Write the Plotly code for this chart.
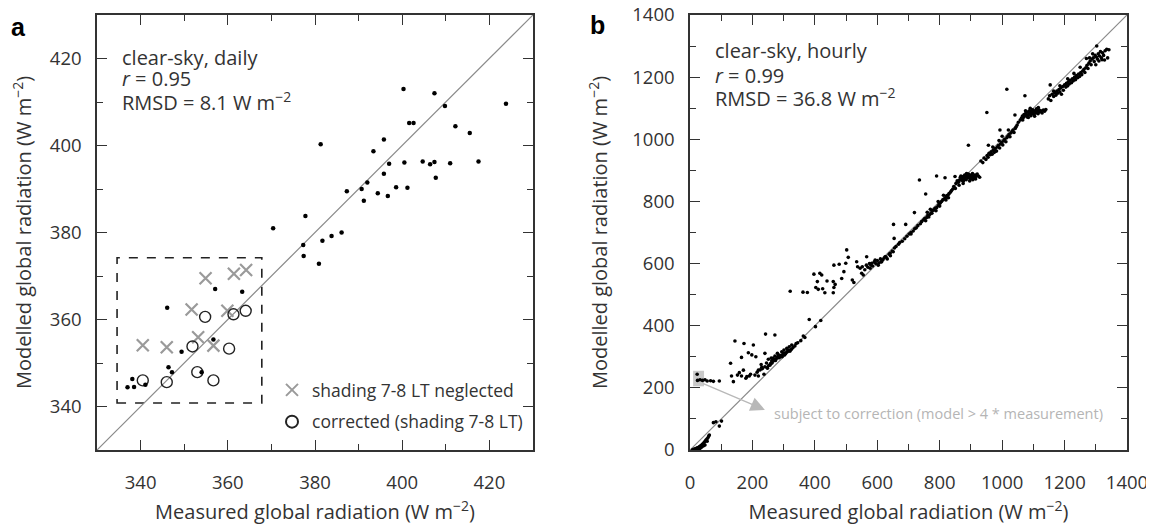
import plotly.graph_objects as go

# ---------------- Panel a: clear-sky, daily ----------------
a_x = [400.3, 407.4, 423.8, 409.8, 401.6, 402.6, 412.2, 415.5, 381.3, 395.8, 393.4, 397.0,
       400.5, 404.7, 406.4, 407.4, 411.0, 417.5, 407.7, 395.8, 392.0, 390.7, 387.3, 391.2,
       394.4, 396.7, 398.6, 401.2, 377.8, 386.1, 383.8, 381.7, 377.3, 377.4, 370.4, 380.9,
       357.1, 363.3, 346.1, 356.7, 349.4, 346.4, 347.2, 354.0, 338.1, 341.1, 337.0, 338.5]
a_y = [413.0, 412.0, 409.6, 409.1, 405.2, 405.2, 404.4, 402.9, 400.3, 401.4, 398.7, 395.8,
       396.1, 396.3, 395.7, 396.2, 395.9, 396.3, 392.6, 393.5, 391.5, 390.0, 389.5, 387.3,
       389.0, 388.4, 390.4, 390.3, 383.8, 380.0, 379.2, 378.1, 377.1, 374.6, 381.0, 372.8,
       367.0, 366.4, 362.7, 355.4, 352.6, 349.0, 347.9, 347.9, 346.3, 345.0, 344.4, 344.5]

neg_x = [354.9, 361.4, 364.2, 351.7, 359.9, 353.2, 340.5, 346.0, 356.7]
neg_y = [369.5, 370.5, 371.4, 362.3, 362.0, 355.9, 354.1, 353.6, 354.0]

cor_x = [354.8, 361.3, 364.1, 351.9, 360.3, 353.0, 356.7, 346.0, 340.5]
cor_y = [360.6, 361.2, 362.0, 353.8, 353.3, 347.9, 346.0, 345.6, 346.0]

a_range = [330, 430]
box_a = [334.6, 367.8, 340.8, 374.2]

# ---------------- Panel b: clear-sky, hourly ----------------
b_x = [
    # near origin
    8, 12, 15, 18, 20, 22, 25, 28, 30, 33, 35, 38, 40, 42, 45, 48, 50, 52, 55, 58, 60, 62,
    32, 36, 44, 48, 40, 55, 26, 30,
    # subject to correction
    23, 24, 32, 40, 48, 55, 66, 75, 94,
    75, 83, 101, 94,
    # lower cluster above line
    144, 173, 203, 242, 272, 130, 165, 187, 198, 211, 240, 171, 158, 133, 139, 152, 165, 179,
    190, 194, 208, 219, 230, 237, 248, 256, 251, 262, 265, 272, 280, 286, 294, 301, 310, 318,
    326, 340, 272, 283, 294, 304, 262, 182, 219,
    # along line 200-370
    215, 225, 232, 240, 248, 252, 258, 262, 266, 270, 274, 278, 281, 285, 288, 292, 295, 298,
    300, 303, 306, 310, 313, 316, 320, 325, 330, 336, 345, 355, 368, 228, 245, 260,
    363, 382, 419, 402,
    # upper-left cluster 320-650
    321, 362, 376, 397, 416, 422, 403, 411, 425, 432, 408, 439, 459, 461, 465, 459, 493, 478,
    461, 499, 507, 486, 520, 525, 534, 537, 550, 555, 566, 577, 582, 593, 603, 614, 625, 641,
    651, 502,
    # along line 540-720
    545, 552, 560, 565, 570, 575, 580, 585, 590, 595, 600, 605, 610, 612, 618, 622, 628, 632,
    638, 642, 648, 655, 660, 668, 672, 680, 688, 695, 702, 708, 715, 720,
    # 720-860
    725, 730, 738, 742, 748, 752, 758, 762, 768, 772, 775, 780, 785, 790, 795, 798, 802, 806,
    810, 815, 818, 822, 826, 830, 835, 838, 842, 845, 850, 812, 795, 770, 760, 755, 765, 775,
    788, 800, 820, 828,
    # dense 850-930
    852, 856, 860, 864, 866, 870, 872, 875, 878, 880, 882, 885, 888, 890, 892, 895, 898, 900,
    903, 905, 908, 910, 913, 916, 920, 924, 928, 868, 876, 886, 896, 906, 915, 875, 862,
    # 930-1050
    932, 938, 942, 948, 952, 955, 958, 962, 965, 968, 972, 975, 978, 982, 985, 988, 992, 995,
    998, 1002, 1005, 1008, 1012, 1015, 1018, 1022, 1025, 1028, 1032, 1035, 1038, 1042, 1045,
    1048, 970, 990, 1000, 1020,
    # dense 1050-1150
    1052, 1058, 1062, 1065, 1068, 1070, 1073, 1076, 1078, 1080, 1082, 1085, 1087, 1090, 1092,
    1094, 1096, 1098, 1100, 1102, 1105, 1108, 1110, 1112, 1115, 1118, 1120, 1124, 1128, 1132,
    1136, 1140, 1066, 1084, 1104, 1116, 1090, 1075,
    # 1150-1340
    1148, 1152, 1156, 1160, 1165, 1168, 1172, 1175, 1178, 1182, 1185, 1188, 1190, 1194, 1196,
    1200, 1204, 1206, 1210, 1212, 1215, 1218, 1222, 1225, 1228, 1232, 1235, 1238, 1242, 1245,
    1248, 1252, 1255, 1258, 1262, 1265, 1268, 1272, 1275, 1278, 1282, 1285, 1288, 1292, 1295,
    1298, 1302, 1305, 1308, 1312, 1315, 1318, 1322, 1325, 1330, 1335, 1300, 1310, 1320, 1280,
    1290, 1270, 1250, 1230, 1210, 1185, 1165, 1303, 1342, 1338, 1328,
    # outliers above line
    1015, 1073, 951, 892, 735, 790, 755, 652, 691, 654, 708, 719, 817, 849, 956, 993, 1041, 1154,
]
b_y = [
    1, 2, 3, 4, 5, 6, 7, 9, 10, 12, 14, 16, 18, 20, 24, 27, 30, 33, 36, 40, 45, 48,
    6, 8, 14, 16, 12, 28, 4, 5,
    244, 224, 226, 224, 226, 222, 223, 221, 222,
    88, 91, 93, 77,
    351, 343, 338, 373, 370, 279, 298, 313, 306, 300, 311, 257, 249, 238, 220, 241, 238, 231,
    238, 244, 241, 257, 266, 244, 263, 273, 292, 279, 295, 302, 311, 298, 316, 322, 327, 332,
    338, 343, 290, 306, 302, 311, 287, 236, 238,
    250, 258, 262, 268, 265, 272, 278, 282, 286, 290, 288, 295, 300, 297, 302, 305, 300, 308,
    312, 306, 310, 315, 318, 322, 318, 324, 330, 335, 345, 352, 362, 275, 280, 296,
    367, 420, 417, 397,
    511, 508, 507, 566, 569, 563, 523, 517, 519, 506, 542, 544, 542, 523, 533, 506, 574, 598,
    595, 601, 620, 552, 547, 539, 606, 590, 569, 563, 622, 585, 601, 611, 595, 606, 622, 633,
    638, 644,
    585, 590, 580, 595, 588, 600, 595, 592, 605, 600, 610, 602, 615, 605, 612, 618, 622, 615,
    630, 625, 640, 650, 655, 662, 668, 672, 680, 688, 695, 700, 705, 712,
    715, 722, 728, 735, 740, 745, 748, 755, 758, 762, 770, 772, 778, 780, 786, 792, 795, 800,
    805, 808, 812, 818, 820, 825, 830, 835, 840, 848, 842, 820, 800, 775, 765, 738, 750, 762,
    770, 785, 805, 812,
    858, 866, 862, 870, 878, 868, 875, 880, 872, 885, 878, 870, 882, 876, 888, 880, 872, 885,
    878, 890, 882, 875, 885, 880, 888, 882, 878, 882, 866, 890, 866, 870, 872, 858, 852,
    930, 925, 940, 935, 948, 942, 955, 950, 960, 952, 965, 958, 970, 962, 975, 980, 972, 985,
    990, 982, 995, 1000, 992, 1005, 1010, 1015, 1008, 1020, 1025, 1030, 1022, 1035, 1040,
    1046, 975, 996, 1010, 1030,
    1055, 1062, 1068, 1075, 1070, 1080, 1076, 1085, 1078, 1072, 1088, 1080, 1092, 1084, 1076,
    1090, 1082, 1095, 1088, 1080, 1092, 1085, 1098, 1090, 1082, 1095, 1088, 1092, 1085, 1094,
    1090, 1096, 1062, 1070, 1074, 1102, 1100, 1092,
    1130, 1140, 1125, 1145, 1138, 1150, 1142, 1155, 1148, 1160, 1152, 1165, 1145, 1170, 1158,
    1175, 1168, 1180, 1172, 1185, 1178, 1190, 1182, 1195, 1188, 1200, 1192, 1205, 1198, 1210,
    1202, 1215, 1208, 1220, 1225, 1215, 1230, 1238, 1228, 1245, 1252, 1240, 1258, 1262, 1250,
    1270, 1265, 1258, 1275, 1268, 1282, 1262, 1278, 1270, 1285, 1290, 1240, 1252, 1256, 1262,
    1275, 1260, 1232, 1212, 1195, 1172, 1155, 1300, 1288, 1262, 1255,
    1161, 1140, 1086, 981, 869, 882, 824, 726, 726, 681, 695, 764, 876, 880, 981, 1030, 1078, 1175,
]
b_range = [0, 1400]
corr_box = [10, 45, 205, 255]
arrow_tail = [38, 216]
arrow_tip = [240, 129]

FONT = "Open Sans"
TXT = "#333333"
AX = "#333333"
W, H = 1154, 524
OFF = 8  # page body margin offset


def px(x):
    return (x - OFF) / W


def py(y):
    return 1 - (y - OFF) / H


fig = go.Figure()

# 1:1 lines
fig.add_trace(go.Scatter(x=a_range, y=a_range, mode="lines", line=dict(color="#8a8a8a", width=1.2),
                         showlegend=False, hoverinfo="skip", xaxis="x", yaxis="y"))
fig.add_trace(go.Scatter(x=b_range, y=b_range, mode="lines", line=dict(color="#8a8a8a", width=1.2),
                         showlegend=False, hoverinfo="skip", xaxis="x2", yaxis="y2"))

fig.add_trace(go.Scatter(x=neg_x, y=neg_y, mode="markers", name="shading 7-8 LT neglected",
                         marker=dict(symbol="x-thin", size=12, line=dict(color="#9a9a9a", width=2.2),
                                     color="#9a9a9a"),
                         legendgroup="g1", xaxis="x", yaxis="y"))
fig.add_trace(go.Scatter(x=cor_x, y=cor_y, mode="markers", name="corrected (shading 7-8 LT)",
                         marker=dict(symbol="circle-open", size=11, color="#222222",
                                     line=dict(width=1.4)),
                         legendgroup="g2", xaxis="x", yaxis="y"))
fig.add_trace(go.Scatter(x=a_x, y=a_y, mode="markers", marker=dict(color="black", size=4.5),
                         showlegend=False, xaxis="x", yaxis="y"))
fig.add_trace(go.Scatter(x=b_x, y=b_y, mode="markers", marker=dict(color="black", size=3.6),
                         showlegend=False, xaxis="x2", yaxis="y2"))

dom_y = [py(450), py(15)]


def axis_common(rng, dtick, tick0, minor, standoff_ticks, title, title_standoff, domain, anchor):
    return dict(
        range=rng, domain=domain, anchor=anchor, dtick=dtick, tick0=tick0, automargin=False,
        ticks="inside", ticklen=10, tickwidth=1.4, tickcolor=AX,
        minor=dict(ticks="inside", ticklen=6, dtick=minor, tickwidth=1.4, tickcolor=AX),
        showline=True, linecolor=AX, linewidth=1.5, mirror="allticks",
        showgrid=False, zeroline=False, ticklabeloverflow="allow",
        tickfont=dict(family=FONT, size=18.5, color=TXT),
        ticklabelstandoff=standoff_ticks,
        title=dict(text=title, font=dict(family=FONT, size=20, color=TXT), standoff=title_standoff),
    )


xt = "Measured global radiation (W m<sup>−2</sup>)"
yt = "Modelled global radiation (W m<sup>−2</sup>)"

fig.update_layout(
    width=W, height=H,
    margin=dict(l=0, r=0, t=0, b=0, autoexpand=False),
    paper_bgcolor="white", plot_bgcolor="white",
    xaxis=axis_common(a_range, 20, 340, 10, 15, xt, 12, [px(97), px(533)], "y"),
    yaxis=axis_common(a_range, 20, 340, 10, 10, yt, 26, dom_y, "x"),
    xaxis2=axis_common(b_range, 200, 0, 100, 15, xt, 12, [px(690), px(1127)], "y2"),
    yaxis2=axis_common(b_range, 200, 0, 100, 10, yt, 19, dom_y, "x2"),
    legend=dict(x=px(272), y=py(372), xanchor="left", yanchor="top",
                font=dict(family=FONT, size=17.5, color=TXT), bgcolor="rgba(0,0,0,0)",
                traceorder="grouped", tracegroupgap=6, itemsizing="constant"),
    showlegend=True,
)

# dashed box and correction box
fig.add_shape(type="rect", xref="x", yref="y", x0=box_a[0], x1=box_a[1], y0=box_a[2], y1=box_a[3],
              line=dict(color="#222222", width=1.6, dash="dash"), fillcolor="rgba(0,0,0,0)", layer="below")
fig.add_shape(type="rect", xref="x2", yref="y2", x0=corr_box[0], x1=corr_box[1], y0=corr_box[2], y1=corr_box[3],
              line=dict(width=0), fillcolor="#c9c9c9", layer="below")

TS = 20
anns = [
    dict(text="<b>a</b>", x=px(9), y=py(27), font=dict(size=25, family="Liberation Sans", color="black")),
    dict(text="<b>b</b>", x=px(588), y=py(25), font=dict(size=25, family="Liberation Sans", color="black")),
    dict(text="clear-sky, daily", x=px(120), y=py(57), font=dict(size=TS, family=FONT, color=TXT)),
    dict(text="<i>r</i> = 0.95", x=px(120), y=py(78), font=dict(size=TS, family=FONT, color=TXT)),
    dict(text="RMSD = 8.1 W m<sup>−2</sup>", x=px(120), y=py(101), font=dict(size=TS, family=FONT, color=TXT)),
    dict(text="clear-sky, hourly", x=px(713), y=py(51), font=dict(size=TS, family=FONT, color=TXT)),
    dict(text="<i>r</i> = 0.99", x=px(713), y=py(75), font=dict(size=TS, family=FONT, color=TXT)),
    dict(text="RMSD = 36.8 W m<sup>−2</sup>", x=px(713), y=py(97), font=dict(size=TS, family=FONT, color=TXT)),
]
for a in anns:
    fig.add_annotation(xref="paper", yref="paper", xanchor="left", yanchor="middle", showarrow=False,
                       align="left", **a)

fig.add_annotation(xref="x2", yref="y2", x=arrow_tip[0], y=arrow_tip[1], ax=arrow_tail[0], ay=arrow_tail[1],
                   axref="x2", ayref="y2", text="", showarrow=True, arrowhead=2, arrowsize=2.2,
                   arrowwidth=1.3, arrowcolor="#b8b8b8")
fig.add_annotation(xref="x2", yref="y2", x=262, y=118, xanchor="left", yanchor="middle", showarrow=False,
                   text="subject to correction (model > 4 * measurement)",
                   font=dict(size=14.5, family=FONT, color="#b5b5b5"))

fig.write_html("out.html")
